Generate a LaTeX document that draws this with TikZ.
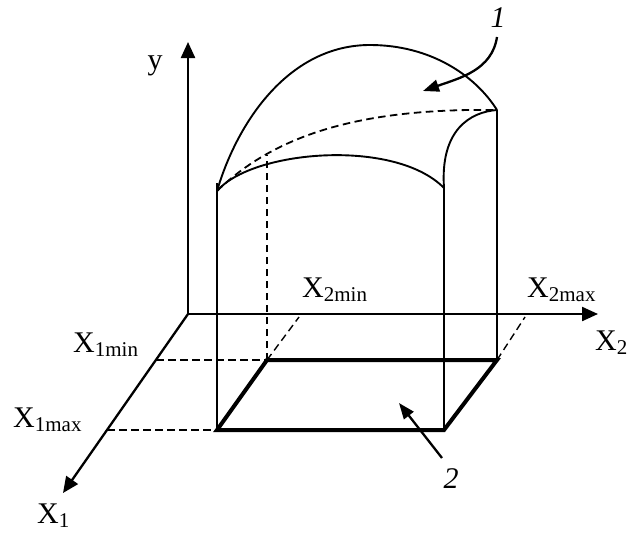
\documentclass[tikz,border=0pt]{standalone}
\usepackage{fontspec}
\setmainfont{Liberation Serif}
\usetikzlibrary{arrows.meta}
\newcommand\Xsub[1]{X\raisebox{-4.5pt}{\fontsize{21}{21}\selectfont #1}}
\tikzset{
  axis/.style={line width=2.3pt,-{Triangle[length=16pt,width=14pt]}},
  thin/.style={line width=2pt},
  curve/.style={line width=1.9pt},
  dsh/.style={line width=1.8pt,dash pattern=on 7.5pt off 4.5pt},
  thick rect/.style={line width=4pt},
  ptr/.style={line width=2.3pt,-{Triangle[length=16pt,width=12pt]}},
  lbl/.style={font=\fontsize{30}{30}\selectfont,inner sep=0pt,anchor=base west},
  num/.style={font=\fontsize{30}{30}\selectfont\itshape,inner sep=0pt,anchor=base}
}
\begin{document}
\begin{tikzpicture}[x=1pt,y=-1pt]
\useasboundingbox (0,0) rectangle (639,535);
% key points
\coordinate (O) at (188,314);
\coordinate (Ytip) at (188,42);
\coordinate (X2tip) at (598,314);
\coordinate (X1tip) at (63,493);
\coordinate (A) at (267,360);
\coordinate (B) at (497,360);
\coordinate (C) at (444,430);
\coordinate (D) at (217,430);
\coordinate (Dtop) at (217,183);
\coordinate (P1) at (217,191);
\coordinate (Ctop) at (444,188);
\coordinate (Btop) at (497,110);
\coordinate (Atop) at (267,155);
\coordinate (Ax1) at (156,360);
\coordinate (Dx1) at (107,430);
\coordinate (Ax2) at (299,317);
\coordinate (Bx2) at (525,317);
\coordinate (S1) at (497,37);
\coordinate (T1) at (423,91);
\coordinate (S2) at (442,458);
\coordinate (T2) at (399,403);
% axes
\draw[axis] (O) -- (Ytip);
\draw[axis] (O) -- (X2tip);
\draw[axis] (O) -- (X1tip);
% dashed guides
\draw[dsh] (Ax1) -- (A);
\draw[dsh] (Dx1) -- (D);
\draw[dsh] (A) -- (Atop);
\draw[dsh,line width=1.4pt] (A) -- (Ax2);
\draw[dsh,line width=1.4pt] (B) -- (Bx2);
% verticals
\draw[thin] (D) -- (Dtop);
\draw[thin] (C) -- (Ctop);
\draw[thin] (B) -- (Btop);
% base rectangle
\draw[thick rect] (A) -- (B) -- (C) -- (D) -- cycle;
% surface curves
\draw[curve] (P1) .. controls (252,150) and (395,138) .. (Ctop);
\draw[curve] (P1) .. controls (238,120) and (290,45) .. (370,45)
  .. controls (430,45) and (475,75) .. (Btop);
\draw[dsh] (P1) .. controls (275,135) and (360,108) .. (Btop);
\draw[curve] (Ctop) .. controls (440,130) and (470,112) .. (Btop);
% pointers
\draw[ptr] (S1) .. controls (492,70) and (460,78) .. (T1);
\draw[ptr] (S2) -- (T2);
% labels
\node[lbl,anchor=base] (ylab) at (155,70) {y};
\node[lbl] (x2lab) at (595,350) {\Xsub{2}};
\node[lbl] (x2max) at (527,297) {\Xsub{2max}};
\node[lbl] (x2min) at (302,297) {\Xsub{2min}};
\node[lbl] (x1min) at (73,352) {\Xsub{1min}};
\node[lbl] (x1max) at (13,427) {\Xsub{1max}};
\node[lbl] (x1lab) at (37,523) {\Xsub{1}};
\node[num] (n1) at (498,28) {1};
\node[num] (n2) at (451,488) {2};
\end{tikzpicture}
\end{document}
